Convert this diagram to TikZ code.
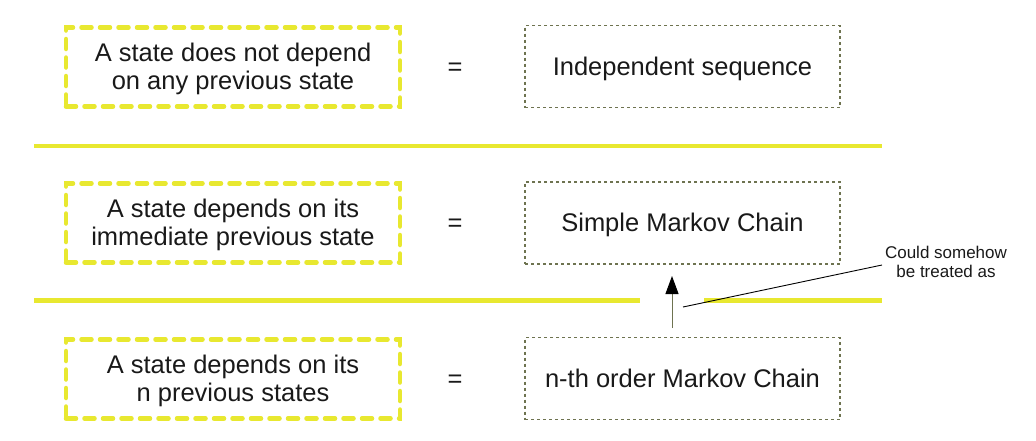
\documentclass[tikz,border=0pt]{standalone}
\usepackage{fontspec}
\setmainfont{Liberation Sans}
\usetikzlibrary{arrows.meta}
\definecolor{yel}{RGB}{232,232,48}
\definecolor{oli}{RGB}{110,115,80}
\definecolor{txt}{RGB}{25,25,25}
\newcommand{\boxtext}[1]{\raisebox{-3pt}[\height][\depth]{\begin{tabular}{@{}c@{}}#1\end{tabular}}}
\tikzset{
  condbox/.style={draw=yel, line width=4.5pt, dash pattern=on 10pt off 8.5pt, line cap=round,
    minimum width=334pt, minimum height=79pt, inner sep=0pt, text=txt,
    font=\fontsize{25.5}{28}\selectfont},
  namebox/.style={draw=oli, line width=1.6pt, dash pattern=on 3pt off 3pt,
    minimum width=315pt, minimum height=82pt, inner sep=0pt, text=txt,
    font=\fontsize{25.5}{28}\selectfont},
  eqsign/.style={text=txt, font=\fontsize{25.5}{28}\selectfont, inner sep=0pt},
  sepline/.style={draw=yel, line width=4.5pt},
  note/.style={text=txt, align=center, inner sep=0pt, font=\fontsize{17}{19}\selectfont}
}
\begin{document}
\begin{tikzpicture}[x=1pt,y=-1pt]
\useasboundingbox (0,0) rectangle (1036,440);
\node[condbox] (l1) at (233,67) {\boxtext{A state does not depend\\on any previous state}};
\node[condbox] (l2) at (233,223) {\boxtext{A state depends on its\\immediate previous state}};
\node[condbox] (l3) at (233,379) {\boxtext{A state depends on its\\n previous states}};
\node[namebox] (r1) at (682.5,66.5) {\boxtext{Independent sequence}};
\node[namebox] (r2) at (682.5,223) {\boxtext{Simple Markov Chain}};
\node[namebox] (r3) at (682.5,378.5) {\boxtext{n-th order Markov Chain}};
\node[eqsign] (e1) at (455,69) {=};
\node[eqsign] (e2) at (455,225) {=};
\node[eqsign] (e3) at (455,381) {=};
\coordinate (s1a) at (34,146);
\coordinate (s1b) at (882,146);
\coordinate (s2a) at (34,300.5);
\coordinate (s2b) at (640,300.5);
\coordinate (s2c) at (704,300.5);
\coordinate (s2d) at (882,300.5);
\draw[sepline] (s1a) -- (s1b);
\draw[sepline] (s2a) -- (s2b);
\draw[sepline] (s2c) -- (s2d);
\coordinate (as) at (672,328);
\coordinate (ae) at (672,276);
\draw[draw=oli, line width=1pt, -{Triangle[width=13pt,length=18pt,fill=black,color=black]}] (as) -- (ae);
\node[note] (n1) at (946,262) {Could somehow\\be treated as};
\coordinate (np) at (683,307);
\coordinate (nq) at (882,265);
\draw[black, line width=0.9pt] (np) -- (nq);
\end{tikzpicture}
\end{document}
